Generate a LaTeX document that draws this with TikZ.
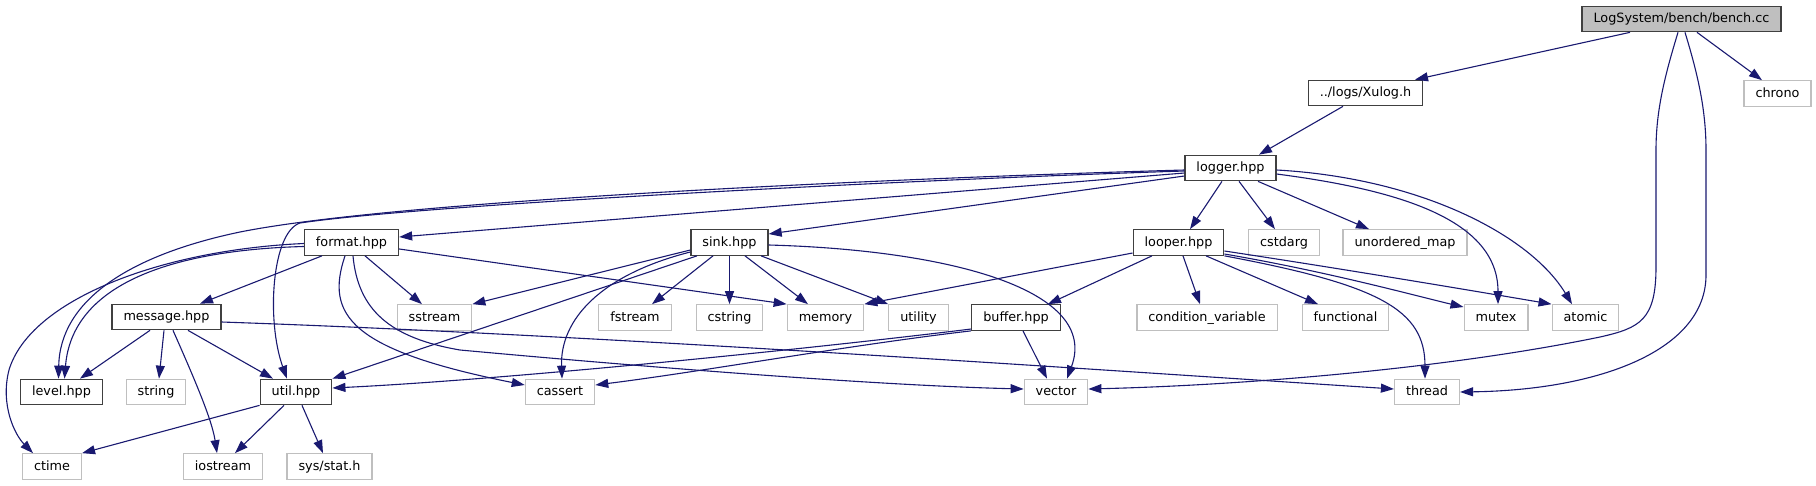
\documentclass[tikz,border=0pt]{standalone}
\usepackage{fontspec}
\setmainfont{DejaVu Sans}
\usepackage{tikz}
\usetikzlibrary{arrows.meta}
\definecolor{edgeblue}{HTML}{191970}
\definecolor{framegray}{HTML}{404040}
\definecolor{extgray}{HTML}{BFBFBF}
\tikzset{
  hfile/.style={draw=framegray,line width=1.2pt,minimum height=25.5pt,inner xsep=11.5pt,inner ysep=2pt,text height=9.6pt,text depth=2.6pt},
  sysfile/.style={hfile,draw=extgray},
  rootfile/.style={hfile,fill=extgray},
  dep/.style={->,draw=edgeblue,line width=1.1pt}
}

\begin{document}
\begin{tikzpicture}[x=1pt,y=-1pt,>={Triangle[length=13pt,width=9pt]},font=\fontsize{12.8}{15}\selectfont]
\useasboundingbox (0,0) rectangle (1816,485);
% files
\node[rootfile] (bench) at (1681.5,19) {LogSystem/bench/bench.cc};
\node[hfile] (xulog) at (1365.5,93) {../logs/Xulog.h};
\node[sysfile] (chrono) at (1777.5,93.5) {chrono};
\node[hfile] (logger) at (1230.5,168) {logger.hpp};
\node[hfile] (format) at (351.5,242.5) {format.hpp};
\node[hfile] (sink) at (729.5,242.5) {sink.hpp};
\node[hfile] (looper) at (1178.5,242.5) {looper.hpp};
\node[sysfile] (cstdarg) at (1284,242.5) {cstdarg};
\node[sysfile] (umap) at (1405,242.5) {unordered\_map};
\node[hfile] (message) at (166.5,317) {message.hpp};
\node[sysfile] (sstream) at (434.5,317.5) {sstream};
\node[sysfile] (fstream) at (635,317.5) {fstream};
\node[sysfile] (cstring) at (729.5,317.5) {cstring};
\node[sysfile] (memory) at (825.5,317.5) {memory};
\node[sysfile] (utility) at (918.5,317.5) {utility};
\node[hfile] (buffer) at (1016,317.5) {buffer.hpp};
\node[sysfile] (condvar) at (1207,317.5) {condition\_variable};
\node[sysfile] (functional) at (1345.5,317.5) {functional};
\node[sysfile] (mutex) at (1496,317.5) {mutex};
\node[sysfile] (atomic) at (1585.5,317.5) {atomic};
\node[hfile] (level) at (61.5,392) {level.hpp};
\node[sysfile] (string) at (156,392) {string};
\node[hfile] (util) at (296,392) {util.hpp};
\node[sysfile] (cassert) at (560,392) {cassert};
\node[sysfile] (vector) at (1056,392) {vector};
\node[sysfile] (thread) at (1427,392) {thread};
\node[sysfile] (ctime) at (52,466.5) {ctime};
\node[sysfile] (iostream) at (223,466.5) {iostream};
\node[sysfile] (sysstat) at (329.5,466.5) {sys/stat.h};
% bench.cc
\draw[dep] ([xshift=-51.5pt]bench.south) -- ([xshift=49.5pt]xulog.north);
\draw[dep] ([xshift=15.5pt]bench.south) -- ([xshift=-15.5pt]chrono.north);
\draw[dep] ([xshift=-3.5pt]bench.south) .. controls (1665,75) and (1656,110) .. (1656,150) -- (1656,267) .. controls (1656,320) and (1640,328) .. (1600,337) .. controls (1450,368) and (1250,385) .. ([yshift=3pt]vector.east);
\draw[dep] ([xshift=3.5pt]bench.south) .. controls (1698,75) and (1706,110) .. (1706,150) -- (1706,275) .. controls (1706,350) and (1600,390) .. (thread.east);
\draw[dep] ([xshift=-22.5pt]xulog.south) -- ([xshift=28.5pt]logger.north);
% logger.hpp
\draw[dep] ([yshift=-5pt]logger.west) -- ([yshift=5.5pt]format.east);
\draw[dep] ([yshift=-8pt]logger.west) -- ([yshift=8.5pt]sink.east);
\draw[dep] ([xshift=-8.5pt]logger.south) -- ([xshift=11.5pt]looper.north);
\draw[dep] ([xshift=8.5pt]logger.south) -- ([xshift=-9pt]cstdarg.north);
\draw[dep] ([xshift=27.5pt]logger.south) -- ([xshift=-36pt]umap.north);
\draw[dep] ([yshift=-6pt]logger.east) .. controls (1400,190) and (1498,220) .. ([xshift=2pt]mutex.north);
\draw[dep] ([yshift=-2pt]logger.east) .. controls (1420,178) and (1530,235) .. ([xshift=-13.5pt]atomic.north);
\draw[dep] ([yshift=-2pt]logger.west) .. controls (900,178) and (400,200) .. (240,232) .. controls (130,255) and (60,300) .. ([xshift=-3pt]level.north);
\draw[dep] ([yshift=-3pt]logger.west) .. controls (900,180) and (420,205) .. (300,223) .. controls (272,232) and (266,320) .. ([xshift=-9pt]util.north);
% format.hpp
\draw[dep] ([xshift=-29.5pt]format.south) -- ([xshift=33.5pt]message.north);
\draw[dep] ([xshift=13.5pt]format.south) -- ([xshift=-12.5pt]sstream.north);
\draw[dep] ([yshift=-6.5pt]format.east) -- (memory.north west);
\draw[dep] ([yshift=-4pt]format.west) .. controls (170,250) and (72,285) .. ([xshift=3pt]level.north);
\draw[dep] ([yshift=-1pt]format.west) .. controls (160,250) and (30,300) .. (9,370) .. controls (0,405) and (15,435) .. ([xshift=-19pt]ctime.north);
\draw[dep] ([xshift=-6.5pt]format.south) .. controls (325,315) and (350,350) .. ([yshift=7pt]cassert.west);
\draw[dep] ([xshift=1.5pt]format.south) .. controls (358,310) and (390,338) .. (460,350) .. controls (700,372) and (900,386) .. ([yshift=3pt]vector.west);
% sink.hpp
\draw[dep] ([yshift=-7.5pt]sink.west) -- (sstream.north east);
\draw[dep] ([xshift=-32.5pt]sink.south) -- (util.north east);
\draw[dep] ([yshift=-9.5pt]sink.west) .. controls (600,275) and (560,320) .. ([xshift=2pt]cassert.north);
\draw[dep] ([xshift=-16.5pt]sink.south) -- ([xshift=17pt]fstream.north);
\draw[dep] (sink.south) -- (cstring.north);
\draw[dep] ([xshift=15.5pt]sink.south) -- ([xshift=-17.5pt]memory.north);
\draw[dep] ([xshift=31.5pt]sink.south) -- (utility.north west);
\draw[dep] ([yshift=-2.5pt]sink.east) .. controls (950,250) and (1100,290) .. ([xshift=11pt]vector.north);
% looper.hpp
\draw[dep] ([yshift=-10.5pt]looper.west) -- (memory.north east);
\draw[dep] ([xshift=-26.5pt]looper.south) -- ([xshift=32pt]buffer.north);
\draw[dep] ([xshift=4.5pt]looper.south) -- ([xshift=-7pt]condvar.north);
\draw[dep] ([xshift=27.5pt]looper.south) -- ([xshift=-27.5pt]functional.north);
\draw[dep] ([yshift=-11.5pt]looper.east) .. controls (1330,272) and (1420,297) .. ([yshift=10.5pt]mutex.west);
\draw[dep] ([yshift=-8.5pt]looper.east) .. controls (1350,270) and (1480,292) .. (atomic.north west);
\draw[dep] (looper.south east) .. controls (1380,285) and (1425,310) .. ([xshift=-2pt]thread.north);
% buffer.hpp
\draw[dep] ([xshift=7pt]buffer.south) -- ([xshift=-9pt]vector.north);
\draw[dep] ([yshift=-11.5pt]buffer.west) .. controls (800,350) and (500,380) .. ([yshift=4pt]util.east);
\draw[dep] (buffer.south west) .. controls (850,345) and (700,372) .. ([yshift=7pt]cassert.east);
% message.hpp
\draw[dep] ([xshift=-16.5pt]message.south) -- ([xshift=18.5pt]level.north);
\draw[dep] ([xshift=-2.5pt]message.south) -- ([xshift=3pt]string.north);
\draw[dep] ([xshift=6.5pt]message.south) .. controls (195,380) and (212,420) .. ([xshift=-6pt]iostream.north);
\draw[dep] ([xshift=21.5pt]message.south) -- ([xshift=-23pt]util.north);
\draw[dep] ([yshift=-5pt]message.east) .. controls (600,335) and (1100,370) .. ([yshift=3pt]thread.west);
% util.hpp
\draw[dep] (util.south west) -- (ctime.north east);
\draw[dep] ([xshift=-12pt]util.south) -- ([xshift=12pt]iostream.north);
\draw[dep] ([xshift=6pt]util.south) -- ([xshift=-6.5pt]sysstat.north);
\end{tikzpicture}
\end{document}
